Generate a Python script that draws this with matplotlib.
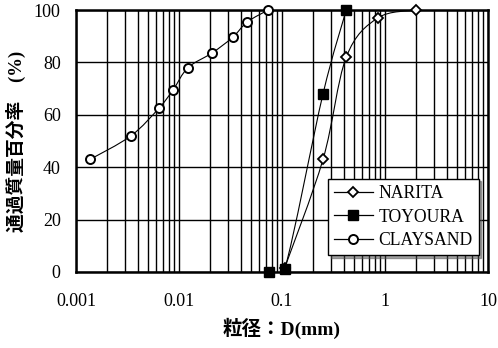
import numpy as np
import matplotlib
matplotlib.use("Agg")
import matplotlib.pyplot as plt
from matplotlib.path import Path
from matplotlib.patches import PathPatch
from matplotlib.ticker import LogLocator, FixedLocator, NullFormatter

# grain size (mm) vs percent passing
narita_d = [0.106, 0.25, 0.42, 0.85, 2.0]
narita_p = [1.5, 43, 82, 97, 100]
toyoura_d = [0.075, 0.106, 0.25, 0.42]
toyoura_p = [0, 1, 68, 100]
clay_d = [0.00137, 0.00342, 0.0064, 0.00875, 0.0122, 0.0209, 0.0334, 0.0457, 0.0731]
clay_p = [43, 52, 62.6, 69.5, 78, 83.6, 89.7, 95.4, 100]

xticks = [0.001, 0.01, 0.1, 1, 10]
xticklabels = ["0.001", "0.01", "0.1", "1", "10"]
yticks = [0, 20, 40, 60, 80, 100]

SERIF = "Liberation Serif"
CJK = ["Liberation Serif", "Noto Sans CJK JP"]


def smooth_path(xs, ys):
    # catmull-rom through the points, done in log-x space
    lx = np.log10(xs)
    ys = np.asarray(ys, float)
    n = len(lx)
    verts = [(xs[0], ys[0])]
    codes = [Path.MOVETO]
    for i in range(n - 1):
        x0, y0 = (lx[i - 1], ys[i - 1]) if i > 0 else (lx[i], ys[i])
        x1, y1 = lx[i], ys[i]
        x2, y2 = lx[i + 1], ys[i + 1]
        x3, y3 = (lx[i + 2], ys[i + 2]) if i + 2 < n else (x2, y2)
        c1 = (x1 + (x2 - x0) / 6, y1 + (y2 - y0) / 6)
        c2 = (x2 - (x3 - x1) / 6, y2 - (y3 - y1) / 6)
        for cx, cy in (c1, c2, (x2, y2)):
            verts.append((10 ** cx, cy))
            codes.append(Path.CURVE4)
    return Path(verts, codes)


fig = plt.figure(figsize=(4.98, 3.48), dpi=100)
ax = fig.add_axes([0.1526, 0.2184, 0.8274, 0.7526])
ax.set_xscale("log")
ax.set_xlim(0.001, 10)
ax.set_ylim(0, 100)

ax.xaxis.set_major_locator(FixedLocator(xticks))
ax.set_xticks(xticks)
ax.set_xticklabels(xticklabels, fontfamily=SERIF, fontsize=13)
ax.xaxis.set_minor_locator(LogLocator(base=10, subs=np.arange(2, 10)))
ax.xaxis.set_minor_formatter(NullFormatter())
ax.set_yticks(yticks)
ax.set_yticklabels([str(v) for v in yticks], fontfamily=SERIF, fontsize=13)
ax.tick_params(axis="both", which="both", length=0)
ax.tick_params(axis="x", pad=15)
ax.tick_params(axis="y", pad=11)

ax.grid(True, which="both", axis="x", color="black", lw=1.0)
ax.grid(True, which="major", axis="y", color="black", lw=1.0)
for s in ax.spines.values():
    s.set_linewidth(1.8)

series = [
    ("NARITA", narita_d, narita_p, dict(marker="D", markersize=5.5, mfc="white", mec="black", mew=1.3)),
    ("TOYOURA", toyoura_d, toyoura_p, dict(marker="s", markersize=7, mfc="black", mec="black")),
    ("CLAYSAND", clay_d, clay_p, dict(marker="o", markersize=6.5, mfc="white", mec="black", mew=1.4)),
]
for name, d, p, mk in series:
    ax.add_patch(PathPatch(smooth_path(d, p), fill=False, ec="black", lw=0.8, zorder=3))
    ax.plot(d, p, ls="none", zorder=4, clip_on=False, **mk)
    ax.plot([], [], color="black", lw=0.9, label=name, **mk)

leg = ax.legend(loc="upper left", bbox_to_anchor=(0.59, 0.39), frameon=True, fancybox=False,
                shadow=True, edgecolor="black", framealpha=1, handlelength=2.2,
                borderpad=0.35, labelspacing=0.38, handletextpad=0.3,
                prop={"family": SERIF, "size": 12.7})
leg.get_frame().set_linewidth(1.0)

ax.set_xlabel("粒径：D(mm)", fontfamily=CJK, fontsize=14, fontweight="bold", labelpad=6)
ax.set_ylabel("通過質量百分率　(%)", fontfamily=CJK, fontsize=13.5, fontweight="bold", labelpad=6)

fig.savefig("out.png", dpi=100)
